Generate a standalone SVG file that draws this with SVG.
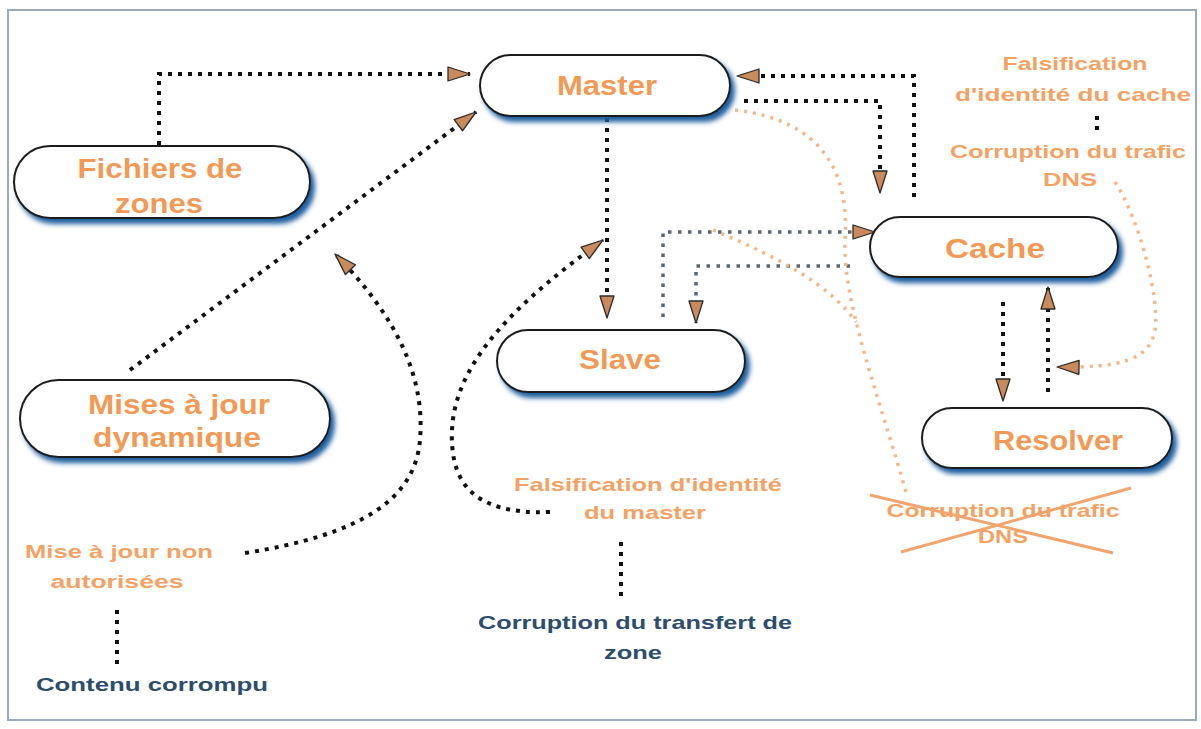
<svg xmlns="http://www.w3.org/2000/svg" width="1201" height="729" viewBox="0 0 1201 729">
<defs>
<style>
.node rect{fill:#ffffff;stroke:#1e1e1e;stroke-width:2;filter:url(#sh)}
.nt{font-family:"Liberation Sans",Arial,sans-serif;font-weight:bold;font-size:27px;fill:#f29a55;text-anchor:middle}
.at{font-family:"Liberation Sans",Arial,sans-serif;font-weight:bold;font-size:19px;fill:#f4a264;text-anchor:middle}
.bt{font-family:"Liberation Sans",Arial,sans-serif;font-weight:bold;font-size:19px;fill:#2c4d6c;text-anchor:middle}
.c{fill:none;stroke:#111;stroke-width:4;stroke-dasharray:4 6}
.g{fill:none;stroke:#5b6673;stroke-width:3.5;stroke-dasharray:3.5 6.5}
.o{fill:none;stroke:#f2b78a;stroke-width:3.5;stroke-dasharray:3 6}
.x{stroke:#f0a46e;stroke-width:3}
</style>
<filter id="sh" x="-10%" y="-20%" width="125%" height="160%">
<feGaussianBlur in="SourceAlpha" stdDeviation="2.5" result="b"/>
<feOffset in="b" dx="4" dy="5" result="o"/>
<feFlood flood-color="#1f5e9e"/>
<feComposite in2="o" operator="in" result="s"/>
<feMerge><feMergeNode in="s"/><feMergeNode in="SourceGraphic"/></feMerge>
</filter>
<marker id="ah" viewBox="0 0 24 16" refX="23" refY="8" markerWidth="24" markerHeight="16" markerUnits="userSpaceOnUse" orient="auto">
<path d="M1,1 L23,8 L1,15 Z" fill="#c98a5c" stroke="#2a2a2a" stroke-width="1.3" stroke-linejoin="round"/>
</marker>
</defs>
<rect x="0" y="0" width="1201" height="729" fill="#ffffff"/>
<rect x="8" y="10" width="1188" height="710" fill="#ffffff" stroke="#9aaab8" stroke-width="2"/>

<g id="connectors">
<path class="c" d="M159,145 V74 H470" marker-end="url(#ah)"/>
<path class="c" d="M130,370 L476,112" marker-end="url(#ah)"/>
<path class="c" d="M245,553 C360,535 415,500 420,440 C425,380 400,320 335,254" marker-end="url(#ah)"/>
<path class="c" d="M550,512 C470,515 450,480 452,430 C455,360 520,300 603,240" marker-end="url(#ah)"/>
<path class="c" d="M607,118 V318" marker-end="url(#ah)"/>
<path class="c" d="M744,101 H880 V193" marker-end="url(#ah)"/>
<path class="c" d="M914,197 V76 H737" marker-end="url(#ah)"/>
<path class="g" d="M663,317 V232 H875" marker-end="url(#ah)"/>
<path class="g" d="M850,266 H696 V323" marker-end="url(#ah)"/>
<path class="c" d="M1003,302 V401" marker-end="url(#ah)"/>
<path class="c" d="M1048,392 V287" marker-end="url(#ah)"/>
<path class="o" d="M1115,182 C1140,220 1160,300 1155,330 C1150,360 1120,368 1057,367" marker-end="url(#ah)"/>
<path class="o" d="M735,110 C820,120 850,170 845,240 C842,300 880,400 906,492"/>
<path class="o" d="M713,230 C780,258 830,285 856,322"/>
<path class="c" d="M1097,116 V130"/>
<path class="c" d="M621,542 V600"/>
<path class="c" d="M117,610 V668"/>
</g>

<g id="master" class="node"><rect x="480" y="55" width="250" height="61" rx="30.5"/><text class="nt" x="607" y="95" textLength="100" lengthAdjust="spacingAndGlyphs">Master</text></g>
<g id="fichiers" class="node"><rect x="14" y="146" width="296" height="72" rx="36"/><text class="nt" x="160" y="178" textLength="165" lengthAdjust="spacingAndGlyphs">Fichiers de</text><text class="nt" x="159" y="213" textLength="88" lengthAdjust="spacingAndGlyphs">zones</text></g>
<g id="slave" class="node"><rect x="497" y="330" width="248" height="62" rx="31"/><text class="nt" x="620" y="369" textLength="82" lengthAdjust="spacingAndGlyphs">Slave</text></g>
<g id="cache" class="node"><rect x="870" y="217" width="248" height="60" rx="30"/><text class="nt" x="995" y="258" textLength="100" lengthAdjust="spacingAndGlyphs">Cache</text></g>
<g id="mises" class="node"><rect x="20" y="380" width="310" height="77" rx="38.5"/><text class="nt" x="179" y="414" textLength="182" lengthAdjust="spacingAndGlyphs">Mises à jour</text><text class="nt" x="177" y="447" textLength="168" lengthAdjust="spacingAndGlyphs">dynamique</text></g>
<g id="resolver" class="node"><rect x="922" y="408" width="250" height="60" rx="30"/><text class="nt" x="1058" y="450" textLength="130" lengthAdjust="spacingAndGlyphs">Resolver</text></g>

<g id="labels">
<text class="at" x="1075" y="70" textLength="145" lengthAdjust="spacingAndGlyphs">Falsification</text>
<text class="at" x="1073" y="101" textLength="236" lengthAdjust="spacingAndGlyphs">d'identité du cache</text>
<text class="at" x="1068" y="158" textLength="236" lengthAdjust="spacingAndGlyphs">Corruption du trafic</text>
<text class="at" x="1070" y="186" textLength="54" lengthAdjust="spacingAndGlyphs">DNS</text>
<text class="at" x="648" y="491" textLength="268" lengthAdjust="spacingAndGlyphs">Falsification d'identité</text>
<text class="at" x="645" y="519" textLength="122" lengthAdjust="spacingAndGlyphs">du master</text>
<text class="bt" x="635" y="629" textLength="314" lengthAdjust="spacingAndGlyphs">Corruption du transfert de</text>
<text class="bt" x="633" y="659" textLength="58" lengthAdjust="spacingAndGlyphs">zone</text>
<text class="at" x="119" y="558" textLength="188" lengthAdjust="spacingAndGlyphs">Mise à jour non</text>
<text class="at" x="117" y="588" textLength="133" lengthAdjust="spacingAndGlyphs">autorisées</text>
<text class="bt" x="152" y="691" textLength="232" lengthAdjust="spacingAndGlyphs">Contenu corrompu</text>
<g id="crossed">
<text class="at" x="1003" y="517" textLength="233" lengthAdjust="spacingAndGlyphs">Corruption du trafic</text>
<text class="at" x="1003" y="543" textLength="50" lengthAdjust="spacingAndGlyphs">DNS</text>
<line class="x" x1="870" y1="495" x2="1113" y2="553"/>
<line class="x" x1="901" y1="552" x2="1131" y2="488"/>
</g>
</g>
</svg>
